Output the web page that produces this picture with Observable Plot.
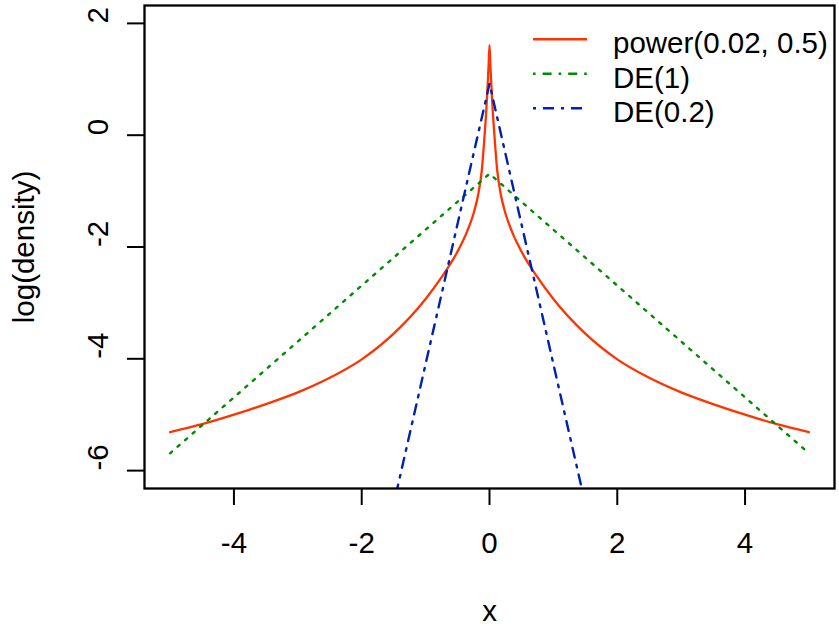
<!DOCTYPE html>
<html><head><meta charset="utf-8">
<script src="https://cdn.jsdelivr.net/npm/d3@7"></script>
<script src="https://cdn.jsdelivr.net/npm/@observablehq/plot@0.6"></script>
<style>
body{margin:0;background:#fff;}
#wrap{position:relative;width:839px;height:626px;}
</style></head><body><div id="wrap"></div>
<script>
const xTicks = [-4, -2, 0, 2, 4];
const yTicks = [-6, -4, -2, 0, 2];
const powerX = [-5, -4.5, -4, -3.5, -3, -2.5, -2, -1.5, -1, -0.75, -0.5, -0.35, -0.25, -0.18, -0.12, -0.08, -0.05, -0.03, -0.015, 0,
                0.015, 0.03, 0.05, 0.08, 0.12, 0.18, 0.25, 0.35, 0.5, 0.75, 1, 1.5, 2, 2.5, 3, 3.5, 4, 4.5, 5];
const powerY = [-5.31, -5.17, -5.00, -4.81, -4.60, -4.34, -4.01, -3.55, -2.93, -2.54, -2.08, -1.72, -1.40, -1.08, -0.62, -0.05, 0.45, 0.88, 1.22, 1.61,
                1.22, 0.88, 0.45, -0.05, -0.62, -1.08, -1.40, -1.72, -2.08, -2.54, -2.93, -3.55, -4.01, -4.34, -4.60, -4.81, -5.00, -5.17, -5.31];
const de1X = [-5, 0, 5];
const de1Y = [-5.69, -0.69, -5.69];
const de02X = [-1.5, 0, 1.5];
const de02Y = [-6.6, 0.92, -6.6];
const seriesNames = ["power(0.02, 0.5)", "DE(1)", "DE(0.2)"];
const seriesColors = ["#ff3300", "#008b00", "#0022b0"];

const toRows = (xs, ys) => xs.map((x, i) => ({x, y: ys[i]}));
const font = '"Liberation Sans", Arial, Helvetica, sans-serif';
const fs = 29.5;

const chart = Plot.plot({
  width: 839, height: 626,
  marginLeft: 144, marginRight: 5, marginTop: 5, marginBottom: 138,
  style: {fontFamily: font, fontSize: fs + "px", background: "#fff", color: "#000"},
  x: {domain: [-5.4, 5.4]},
  y: {domain: [-6.32, 2.32]},
  marks: [
    Plot.line(toRows(powerX, powerY), {x: "x", y: "y", stroke: seriesColors[0], strokeWidth: 2.3, curve: "monotone-x", clip: true}),
    Plot.line(toRows(de1X, de1Y), {x: "x", y: "y", stroke: seriesColors[1], strokeWidth: 2.4, strokeDasharray: "2.6,7.4", clip: true}),
    Plot.line(toRows(de02X, de02Y), {x: "x", y: "y", stroke: seriesColors[2], strokeWidth: 2.4, strokeDasharray: "2.6,7.4,10,7.4", clip: true}),
    Plot.frame({stroke: "#000", strokeWidth: 2.3}),
    Plot.axisX({ticks: xTicks, tickSize: 17, tickPadding: 27, strokeWidth: 2, tickFormat: d => String(d), fontSize: fs,
      label: "x", labelAnchor: "center", labelArrow: "none", labelOffset: 132}),
    Plot.axisY({ticks: yTicks, tickSize: 17, strokeWidth: 2, tickFormat: () => "", fontSize: fs,
      label: "log(density)", labelAnchor: "center", labelArrow: "none", labelOffset: 131}),
    Plot.text(yTicks, {y: d => d, text: d => String(d), frameAnchor: "left", dx: -46, rotate: -90, fontSize: fs, lineAnchor: "middle"})
  ]
});
const wrap = document.getElementById("wrap");
wrap.appendChild(chart);

// legend (no box), drawn as an overlay
const legRowY = [39.3, 73.8, 108.3];
const legDash = [null, "2.6,7,9,7", "3,7,11,7"];
const leg = d3.create("svg").attr("width", 839).attr("height", 626)
  .style("position", "absolute").style("left", "0").style("top", "0");
seriesNames.forEach((name, i) => {
  const l = leg.append("line").attr("x1", 533).attr("x2", 587).attr("y1", legRowY[i]).attr("y2", legRowY[i])
    .attr("stroke", seriesColors[i]).attr("stroke-width", 2.4);
  if (legDash[i]) l.attr("stroke-dasharray", legDash[i]);
  leg.append("text").attr("x", 613).attr("y", legRowY[i] + 14).text(name)
    .attr("font-family", font).attr("font-size", fs).attr("fill", "#000");
});
wrap.appendChild(leg.node());
</script></body></html>
